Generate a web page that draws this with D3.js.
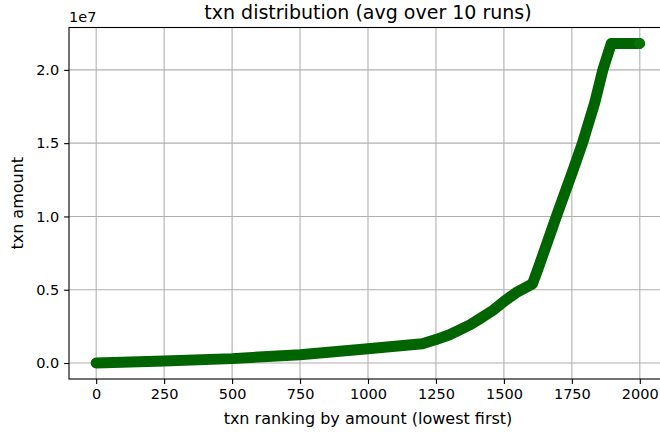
<!DOCTYPE html>
<html>
<head>
<meta charset="utf-8">
<script src="https://cdn.jsdelivr.net/npm/d3@7"></script>
<style>
    body { margin: 0; background: #fff; }
    svg { display: block; font-family: "DejaVu Sans", sans-serif; }
</style>
</head>
<body>
<svg id="chart" width="660" height="432"></svg>
<script>
// txn ranking (x) and avg txn amount in units of 1e7 (y)
const ranks = [0, 250, 500, 750, 1000, 1200, 1250, 1300, 1375, 1410, 1460, 1500, 1545, 1605, 1625, 1693, 1755, 1789, 1834, 1864, 1895, 1999];
const amounts = [0, 0.014, 0.03, 0.057, 0.098, 0.132, 0.16, 0.193, 0.26, 0.30, 0.36, 0.42, 0.48, 0.54, 0.64, 1.0, 1.32, 1.5, 1.775, 2.0, 2.18, 2.18];

const xTicks = [0, 250, 500, 750, 1000, 1250, 1500, 1750, 2000];
const yTicks = [0, 0.5, 1.0, 1.5, 2.0];

const svg = d3.select("#chart");

// axes box (right spine sits just past the picture edge)
const axLeft = 69, axRight = 667, axTop = 27.5, axBottom = 379;

const x = d3.scaleLinear().domain([-100, 2100]).range([axLeft, axRight]);
const y = d3.scaleLinear().domain([-0.109, 2.289]).range([axBottom, axTop]);

// grid
const grid = svg.append("g").attr("stroke", "#b0b0b0").attr("stroke-width", 1.1);
grid.selectAll(".gx")
    .data(xTicks)
    .enter()
    .append("line")
    .attr("x1", d => x(d)).attr("x2", d => x(d))
    .attr("y1", axTop).attr("y2", axBottom);
grid.selectAll(".gy")
    .data(yTicks)
    .enter()
    .append("line")
    .attr("x1", axLeft).attr("x2", axRight)
    .attr("y1", d => y(d)).attr("y2", d => y(d));

// data as dense markers -> thick round line
const points = ranks.map((r, i) => [r, amounts[i]]);
const line = d3.line().x(d => x(d[0])).y(d => y(d[1]));

svg.append("path")
    .datum(points)
    .attr("d", line)
    .attr("fill", "none")
    .attr("stroke", "#006400")
    .attr("stroke-width", 11)
    .attr("stroke-linecap", "round")
    .attr("stroke-linejoin", "round");

svg.append("circle")
    .attr("cx", x(ranks[ranks.length - 1]))
    .attr("cy", y(amounts[amounts.length - 1]))
    .attr("r", 5.4)
    .attr("fill", "#087008");

// axes
const xAxis = d3.axisBottom(x).tickValues(xTicks).tickFormat(d3.format("d")).tickSize(4.9).tickPadding(4.9);
const yAxis = d3.axisLeft(y).tickValues(yTicks).tickFormat(d3.format(".1f")).tickSize(4.9).tickPadding(4.9);

const gx = svg.append("g").attr("transform", `translate(0,${axBottom})`).call(xAxis);
const gy = svg.append("g").attr("transform", `translate(${axLeft},0)`).call(yAxis);

[gx, gy].forEach(g => {
    g.select(".domain").remove();
    g.selectAll(".tick line").attr("stroke", "#000").attr("stroke-width", 1.1);
    g.selectAll(".tick text")
        .attr("fill", "#000")
        .style("font-size", "14.5px")
        .style("font-family", "DejaVu Sans, sans-serif");
});

// spines
svg.append("rect")
    .attr("x", axLeft).attr("y", axTop)
    .attr("width", axRight - axLeft).attr("height", axBottom - axTop)
    .attr("fill", "none")
    .attr("stroke", "#000")
    .attr("stroke-width", 1.1);

// texts
svg.append("text")
    .attr("x", (axLeft + axRight) / 2).attr("y", 19)
    .attr("text-anchor", "middle")
    .style("font-size", "19px")
    .text("txn distribution (avg over 10 runs)");

svg.append("text")
    .attr("x", axLeft).attr("y", 22)
    .style("font-size", "14.5px")
    .text("1e7");

svg.append("text")
    .attr("x", (axLeft + axRight) / 2).attr("y", 424)
    .attr("text-anchor", "middle")
    .style("font-size", "16px")
    .text("txn ranking by amount (lowest first)");

svg.append("text")
    .attr("transform", `translate(23,${(axTop + axBottom) / 2}) rotate(-90)`)
    .attr("text-anchor", "middle")
    .style("font-size", "16px")
    .text("txn amount");
</script>
</body>
</html>
